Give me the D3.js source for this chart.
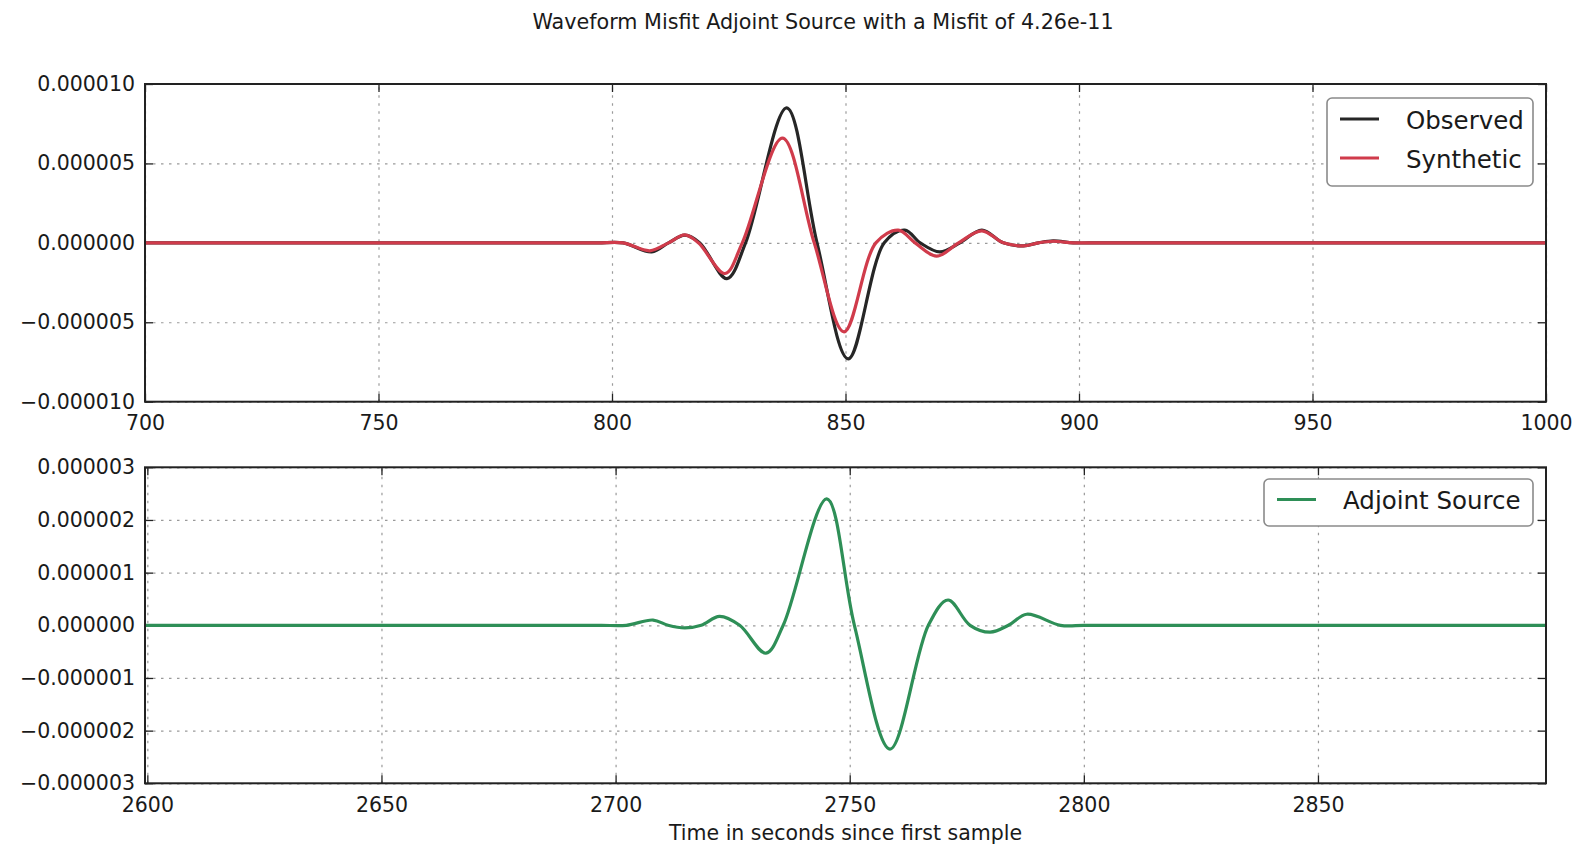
<!DOCTYPE html>
<html>
<head>
<meta charset="utf-8">
<script src="https://cdn.jsdelivr.net/npm/d3@7"></script>
<style>
  body { margin: 0; background: #fff; }
  text { font-family: "DejaVu Sans", sans-serif; fill: #1a1a1a; }
</style>
</head>
<body>
<script>

//////////////////
// Data
//////////////////

// Upper panel - observed and synthetic traces (seconds, amplitude)
var obsTime = [700, 790, 797, 802.4, 808.5, 812.1, 815.6, 818.8, 824.6, 828.6, 837.4, 843.9,
    850.6, 858.3, 862.7, 866.0, 870.2, 874.5, 879.2, 883.8, 888.1, 891.3, 894.5, 898.8, 904, 911, 1000];
var obsValue = [0, 0, 0, 0, -5.7e-7, 0, 4.9e-7, 0, -2.25e-6, 0, 8.5e-6, 0,
    -7.3e-6, 0, 8.0e-7, 0, -5.7e-7, 0, 8.0e-7, 0, -1.9e-7, 0, 1.3e-7, 0, 0, 0, 0];

var synTime = [700, 790, 797, 802.4, 808.1, 812.1, 815.6, 818.5, 824.2, 827.9, 836.5, 843.3,
    849.7, 856.5, 861.3, 864.9, 869.5, 874.2, 879.2, 883.8, 888.1, 891.3, 894.5, 898.8, 904, 911, 1000];
var synValue = [0, 0, 0, 0, -5.0e-7, 0, 5.0e-7, 0, -1.93e-6, 0, 6.59e-6, 0,
    -5.6e-6, 0, 8.0e-7, 0, -8.4e-7, 0, 7.6e-7, 0, -1.9e-7, 0, 1.0e-7, 0, 0, 0, 0];

// Lower panel - adjoint source
var adjTime = [2599.5, 2690, 2697, 2702.3, 2708.0, 2711.2, 2714.8, 2718.3, 2722.2, 2726.5, 2732.1, 2735.8,
    2745.1, 2751.0, 2758.6, 2766.8, 2771.0, 2775.7, 2780.0, 2783.9, 2787.8, 2795.0, 2800, 2807, 2898.7];
var adjValue = [0, 0, 0, 0, 1.0e-7, 0, -5.0e-8, 0, 1.7e-7, 0, -5.3e-7, 0,
    2.40e-6, 0, -2.35e-6, 0, 4.8e-7, 0, -1.3e-7, 0, 2.1e-7, 0, 0, 0, 0];

// Axis ranges and ticks
var topXDomain = [700, 1000];
var topYDomain = [-1e-5, 1e-5];
var topXTicks = [700, 750, 800, 850, 900, 950, 1000];
var topYTicks = [-1e-5, -5e-6, 0, 5e-6, 1e-5];

var botXDomain = [2599.5, 2898.7];
var botYDomain = [-3e-6, 3e-6];
var botXTicks = [2600, 2650, 2700, 2750, 2800, 2850];
var botYTicks = [-3e-6, -2e-6, -1e-6, 0, 1e-6, 2e-6, 3e-6];

var titleText = "Waveform Misfit Adjoint Source with a Misfit of 4.26e-11";
var xLabelText = "Time in seconds since first sample";

var topLegend = ["Observed", "Synthetic"];
var botLegend = ["Adjoint Source"];

var colors = {obs: "#262626", syn: "#d03b4b", adj: "#2e8f57"};

////////////////
// Make display!
////////////////

var W = 1574, H = 849;
var left = 145, right = 1546;

var svg = d3.select("body").append("svg")
    .attr("width", W)
    .attr("height", H);

var fmt = d3.format(".6f");

function zip(ts, vs) {
    var out = [];
    for (var i = 0; i < ts.length; i++) out.push([ts[i], vs[i]]);
    return out;
}

// one panel: grid, ticks on every side, labels
function panel(top, bottom, xDom, yDom, xTicks, yTicks) {
    var x = d3.scaleLinear().domain(xDom).range([left, right]);
    var y = d3.scaleLinear().domain(yDom).range([bottom, top]);
    var g = svg.append("g");

    // dotted grid
    g.append("g").call(d3.axisBottom(x).tickValues(xTicks).tickSize(-(bottom - top)).tickFormat(""))
        .attr("transform", "translate(0," + bottom + ")")
        .call(function(s) { s.select(".domain").remove(); });
    g.append("g").call(d3.axisLeft(y).tickValues(yTicks).tickSize(-(right - left)).tickFormat(""))
        .attr("transform", "translate(" + left + ",0)")
        .call(function(s) { s.select(".domain").remove(); });
    g.selectAll(".tick line")
        .attr("stroke", "#9a9a9a")
        .attr("stroke-width", 1.2)
        .attr("stroke-dasharray", "2.5,5.5");

    // inward ticks with labels
    var xa = g.append("g").attr("transform", "translate(0," + bottom + ")")
        .call(d3.axisBottom(x).tickValues(xTicks).tickSizeInner(-8).tickSizeOuter(0).tickPadding(14).tickFormat(d3.format("d")));
    var ya = g.append("g").attr("transform", "translate(" + left + ",0)")
        .call(d3.axisLeft(y).tickValues(yTicks).tickSizeInner(-8).tickSizeOuter(0).tickPadding(18).tickFormat(fmt));
    var xt = g.append("g").attr("transform", "translate(0," + top + ")")
        .call(d3.axisTop(x).tickValues(xTicks).tickSizeInner(-8).tickSizeOuter(0).tickFormat(""));
    var yr = g.append("g").attr("transform", "translate(" + right + ",0)")
        .call(d3.axisRight(y).tickValues(yTicks).tickSizeInner(-8).tickSizeOuter(0).tickFormat(""));
    [xa, ya, xt, yr].forEach(function(a) {
        a.select(".domain").remove();
        a.selectAll(".tick line").attr("stroke", "#222").attr("stroke-width", 1.3);
        a.selectAll("text").attr("font-size", 20.5).attr("font-family", "DejaVu Sans").attr("fill", "#1a1a1a");
    });
    ya.selectAll("text").attr("dx", 8);

    return {x: x, y: y, g: g, top: top, bottom: bottom};
}

function frame(p) {
    p.g.append("rect")
        .attr("x", left).attr("y", p.top)
        .attr("width", right - left).attr("height", p.bottom - p.top)
        .attr("fill", "none")
        .attr("stroke", "#222")
        .attr("stroke-width", 2);
}

function trace(p, data, color) {
    var line = d3.line()
        .x(function(d) { return p.x(d[0]); })
        .y(function(d) { return p.y(d[1]); })
        .curve(d3.curveCatmullRom.alpha(0.5));
    p.g.append("path")
        .datum(data)
        .attr("d", line)
        .attr("fill", "none")
        .attr("stroke", color)
        .attr("stroke-width", 3.2)
        .attr("stroke-linejoin", "round");
}

function legend(x0, y0, w, h, names, cols, rowY) {
    var lg = svg.append("g");
    lg.append("rect")
        .attr("x", x0).attr("y", y0).attr("width", w).attr("height", h)
        .attr("rx", 5)
        .attr("fill", "#fff")
        .attr("stroke", "#8a8a8a")
        .attr("stroke-width", 1.6);
    names.forEach(function(n, i) {
        lg.append("line")
            .attr("x1", x0 + 13).attr("x2", x0 + 52)
            .attr("y1", rowY[i]).attr("y2", rowY[i])
            .attr("stroke", cols[i]).attr("stroke-width", 3);
        lg.append("text")
            .attr("x", x0 + 79).attr("y", rowY[i] + 1)
            .attr("dominant-baseline", "central")
            .attr("font-size", 24.5)
            .text(n);
    });
}

// Upper panel
var p1 = panel(84, 401.7, topXDomain, topYDomain, topXTicks, topYTicks);
trace(p1, zip(obsTime, obsValue), colors.obs);
trace(p1, zip(synTime, synValue), colors.syn);
frame(p1);
legend(1327, 98, 206, 88, topLegend, [colors.obs, colors.syn], [119, 158]);

// Lower panel
var p2 = panel(467.3, 783.3, botXDomain, botYDomain, botXTicks, botYTicks);
trace(p2, zip(adjTime, adjValue), colors.adj);
frame(p2);
legend(1264, 479, 269, 47, botLegend, [colors.adj], [499.5]);

// Title and x label
svg.append("text")
    .attr("x", 823).attr("y", 29)
    .attr("text-anchor", "middle")
    .attr("font-size", 20.7)
    .text(titleText);

svg.append("text")
    .attr("x", 845.5).attr("y", 840)
    .attr("text-anchor", "middle")
    .attr("font-size", 20.5)
    .text(xLabelText);

</script>
</body>
</html>
